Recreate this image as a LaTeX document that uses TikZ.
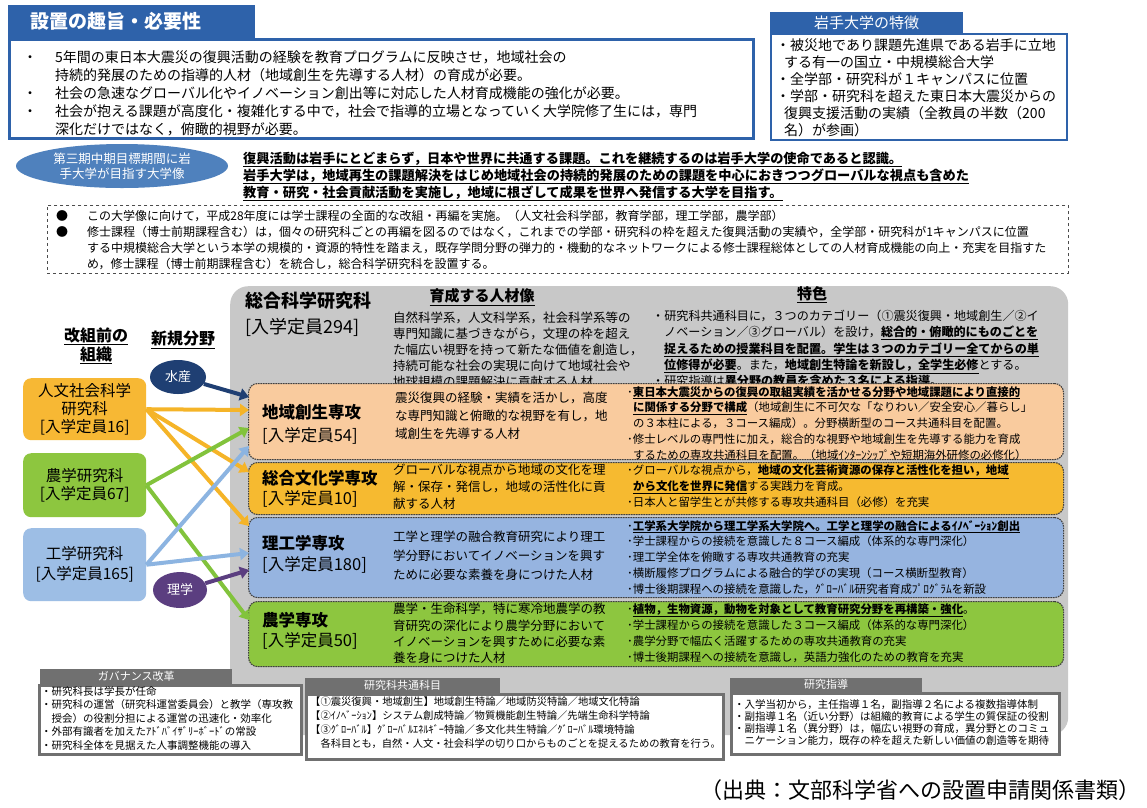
\documentclass[tikz,border=0pt]{standalone}
\usepackage{fontspec}
\setmainfont{Noto Sans CJK JP}
\usetikzlibrary{arrows.meta,shapes.geometric}
\definecolor{tblue}{RGB}{46,98,170}
\definecolor{eblue}{RGB}{79,129,189}
\definecolor{gbox}{RGB}{200,200,200}
\definecolor{rowa}{RGB}{249,203,158}
\definecolor{rowb}{RGB}{246,186,48}
\definecolor{rowc}{RGB}{150,180,224}
\definecolor{rowd}{RGB}{141,198,63}
\definecolor{lor}{RGB}{247,184,52}
\definecolor{lgr}{RGB}{141,198,63}
\definecolor{lbl}{RGB}{157,190,229}
\definecolor{navyc}{RGB}{31,63,115}
\definecolor{purp}{RGB}{91,62,128}
\definecolor{dgray}{RGB}{112,112,112}
\definecolor{aor}{RGB}{245,180,40}
\definecolor{agr}{RGB}{130,195,60}
\definecolor{abl}{RGB}{140,180,225}
\newcommand\fsz[2]{\fontsize{#1}{#2}\selectfont}
\newcommand\ubf[1]{\underline{\textbf{#1}}}
\newcommand\bul[1]{\makebox[#1][l]{・}}
\begin{document}
\begin{tikzpicture}[x=1pt,y=-1pt,
  tx/.style={anchor=north west,inner sep=0pt,align=left},
  lbl/.style={anchor=west,inner sep=0pt},
  arr/.style={line width=4pt,-{Triangle[length=9pt,width=12pt]}},
  rowbox/.style={draw=black!75,line width=1.1pt,dash pattern=on 1.6pt off 0.9pt,rounded corners=9pt,anchor=north west,inner sep=0pt,minimum width=815pt},
  lbox/.style={rounded corners=8pt,anchor=north west,inner sep=0pt,minimum width=123pt},
  wbox/.style={fill=white,anchor=north west,inner sep=0pt},
  tabbox/.style={anchor=south west,inner sep=0pt},
  ]
\useasboundingbox (0,0) rectangle (1147,807);
\fill[white] (0,0) rectangle (1147,807);

% ---- top left
\node[wbox,draw=tblue,line width=2.5pt,minimum width=744pt,minimum height=99pt] (box1) at (8,38) {};
\node[tabbox,fill=tblue,minimum width=247pt,minimum height=33pt] (tab1) at (8,38) {};
\node[lbl,text=white,font=\bfseries\fsz{19}{19}] (tab1t) at (30,21.5) {設置の趣旨・必要性};
\node[tx,font=\fsz{14}{18}] (box1t) at (23,50) {\bul{32pt}5年間の東日本大震災の復興活動の経験を教育プログラムに反映させ，地域社会の\\
\hspace*{32pt}持続的発展のための指導的人材（地域創生を先導する人材）の育成が必要。\\
\bul{32pt}社会の急速なグローバル化やイノベーション創出等に対応した人材育成機能の強化が必要。\\
\bul{32pt}社会が抱える課題が高度化・複雑化する中で，社会で指導的立場となっていく大学院修了生には，専門\\
\hspace*{32pt}深化だけではなく，俯瞰的視野が必要。};

% ---- top right
\node[wbox,draw=tblue,line width=2pt,minimum width=296pt,minimum height=106pt] (box2) at (770,33) {};
\node[tabbox,fill=tblue,minimum width=193pt,minimum height=21pt] (tab2) at (770,33) {};
\node[inner sep=0pt,text=white,font=\fsz{15}{15}] (tab2t) at (tab2.center) {岩手大学の特徴};
\node[tx,font=\fsz{14}{17}] (box2t) at (776,39) {・被災地であり課題先進県である岩手に立地\\
\hspace*{8pt}する有一の国立・中規模総合大学\\
・全学部・研究科が１キャンパスに位置\\
・学部・研究科を超えた東日本大震災からの\\
\hspace*{8pt}復興支援活動の実績（全教員の半数（200\\
\hspace*{8pt}名）が参画）};

% ---- mission
\node[ellipse,fill=eblue,minimum width=212pt,minimum height=44pt,inner sep=0pt,text=white,font=\fsz{12.5}{15},align=center] (ell) at (122,166) {第三期中期目標期間に岩\\手大学が目指す大学像};
\node[tx,font=\bfseries\fsz{13.2}{17}] (mission) at (243,151.5) {\underline{復興活動は岩手にとどまらず，日本や世界に共通する課題。これを継続するのは岩手大学の使命であると認識。}\\
\underline{岩手大学は，地域再生の課題解決をはじめ地域社会の持続的発展のための課題を中心におきつつグローバルな視点も含めた}\\
\underline{教育・研究・社会貢献活動を実施し，地域に根ざして成果を世界へ発信する大学を目指す。}};

% ---- plan (dashed)
\node[draw=black!70,dashed,line width=0.8pt,minimum width=1021pt,minimum height=68pt,anchor=north west,inner sep=0pt] (plan) at (47,205) {};
\node[tx,font=\fsz{12}{16}] (plant) at (56,210) {\makebox[31pt][l]{●}この大学像に向けて，平成28年度には学士課程の全面的な改組・再編を実施。（人文社会科学部，教育学部，理工学部，農学部）\\
\makebox[31pt][l]{●}修士課程（博士前期課程含む）は，個々の研究科ごとの再編を図るのではなく，これまでの学部・研究科の枠を超えた復興活動の実績や，全学部・研究科が1キャンパスに位置\\
\hspace*{31pt}する中規模総合大学という本学の規模的・資源的特性を踏まえ，既存学問分野の弾力的・機動的なネットワークによる修士課程総体としての人材育成機能の向上・充実を目指すた\\
\hspace*{31pt}め，修士課程（博士前期課程含む）を統合し，総合科学研究科を設置する。};

% ---- gray main box
\node[fill=gbox,rounded corners=18pt,minimum width=838pt,minimum height=449pt,anchor=north west,inner sep=0pt] (gray) at (230,286) {};
\node[lbl,font=\bfseries\fsz{18}{18}] (gname) at (245,301) {総合科学研究科};
\node[lbl,font=\fsz{18}{18}] (gcap) at (245,327) {[入学定員294]};
\node[inner sep=0pt,font=\bfseries\fsz{15}{15}] (hjin) at (482,297) {\underline{育成する人材像}};
\node[inner sep=0pt,font=\bfseries\fsz{15}{15}] (htoku) at (812,295) {\underline{特色}};
\node[tx,font=\fsz{12.5}{16}] (gjin) at (393,312) {自然科学系，人文科学系，社会科学系等の\\
専門知識に基づきながら，文理の枠を超え\\
た幅広い視野を持って新たな価値を創造し，\\
持続可能な社会の実現に向けて地域社会や\\
地球規模の課題解決に貢献する人材};
\node[tx,font=\fsz{12.1}{16.3}] (gtoku) at (652,310) {・研究科共通科目に，３つのカテゴリー（①震災復興・地域創生／②イ\\
\hspace*{12pt}ノベーション／③グローバル）を設け，\ubf{総合的・俯瞰的にものごとを}\\
\hspace*{12pt}\ubf{捉えるための授業科目を配置。学生は３つのカテゴリー全てからの単}\\
\hspace*{12pt}\ubf{位修得が必要}。また，\ubf{地域創生特論を新設し，全学生必修}とする。\\
・研究指導は\ubf{異分野の教員を含めた３名による指導}。};

% ---- rows
\node[rowbox,fill=rowa,minimum height=76pt] (r1) at (248,383) {};
\node[rowbox,fill=rowb,minimum height=52pt] (r2) at (248,462) {};
\node[rowbox,fill=rowc,minimum height=80pt] (r3) at (248,517) {};
\node[rowbox,fill=rowd,minimum height=65pt] (r4) at (248,601) {};

\node[lbl,font=\bfseries\fsz{16.5}{16.5}] (r1n) at (262,412) {地域創生専攻};
\node[lbl,font=\fsz{16.5}{16.5}] (r1c) at (262,436) {[入学定員54]};
\node[tx,font=\fsz{12.5}{18}] (r1j) at (395,392) {震災復興の経験・実績を活かし，高度\\
な専門知識と俯瞰的な視野を有し，地\\
域創生を先導する人材};
\node[tx,font=\fsz{11.4}{15.8}] (r1t) at (627,386) {･\ubf{東日本大震災からの復興の取組実績を活かせる分野や地域課題により直接的}\\
\hspace*{6pt}\ubf{に関係する分野で構成}（地域創生に不可欠な「なりわい／安全安心／暮らし」\\
\hspace*{6pt}の３本柱による，３コース編成）。分野横断型のコース共通科目を配置。\\
･修士レベルの専門性に加え，総合的な視野や地域創生を先導する能力を育成\\
\hspace*{6pt}するための専攻共通科目を配置。（地域ｲﾝﾀｰﾝｼｯﾌﾟや短期海外研修の必修化）};

\node[lbl,font=\bfseries\fsz{16.5}{16.5}] (r2n) at (262,478) {総合文化学専攻};
\node[lbl,font=\fsz{16.5}{16.5}] (r2c) at (262,499) {[入学定員10]};
\node[tx,font=\fsz{12.5}{17}] (r2j) at (393,464) {グローバルな視点から地域の文化を理\\
解・保存・発信し，地域の活性化に貢\\
献する人材};
\node[tx,font=\fsz{11.4}{16}] (r2t) at (627,465) {･グローバルな視点から，\ubf{地域の文化芸術資源の保存と活性化を担い，地域}\\
\hspace*{6pt}\ubf{から文化を世界に発信}する実践力を育成。\\
･日本人と留学生とが共修する専攻共通科目（必修）を充実};

\node[lbl,font=\bfseries\fsz{16.5}{16.5}] (r3n) at (262,543) {理工学専攻};
\node[lbl,font=\fsz{16.5}{16.5}] (r3c) at (262,565) {[入学定員180]};
\node[tx,font=\fsz{12.5}{19}] (r3j) at (393,531) {工学と理学の融合教育研究により理工\\
学分野においてイノベーションを興す\\
ために必要な素養を身につけた人材};
\node[tx,font=\fsz{11.4}{15.8}] (r3t) at (627,520) {･\ubf{工学系大学院から理工学系大学院へ。工学と理学の融合によるｲﾉﾍﾞｰｼｮﾝ創出}\\
･学士課程からの接続を意識した８コース編成（体系的な専門深化）\\
･理工学全体を俯瞰する専攻共通教育の充実\\
･横断履修プログラムによる融合的学びの実現（コース横断型教育）\\
･博士後期課程への接続を意識した，ｸﾞﾛｰﾊﾞﾙ研究者育成ﾌﾟﾛｸﾞﾗﾑを新設};

\node[lbl,font=\bfseries\fsz{16.5}{16.5}] (r4n) at (262,620) {農学専攻};
\node[lbl,font=\fsz{16.5}{16.5}] (r4c) at (262,641) {[入学定員50]};
\node[tx,font=\fsz{12.5}{16.3}] (r4j) at (393,603) {農学・生命科学，特に寒冷地農学の教\\
育研究の深化により農学分野において\\
イノベーションを興すために必要な素\\
養を身につけた人材};
\node[tx,font=\fsz{11.4}{16.3}] (r4t) at (627,603) {･\ubf{植物，生物資源，動物を対象として教育研究分野を再構築・強化}。\\
･学士課程からの接続を意識した３コース編成（体系的な専門深化）\\
･農学分野で幅広く活躍するための専攻共通教育の充実\\
･博士後期課程への接続を意識し，英語力強化のための教育を充実};

% ---- left side
\node[inner sep=0pt,font=\bfseries\fsz{16}{19},align=center] (before) at (96,346) {\underline{改組前の}\\\underline{組織}};
\node[inner sep=0pt,font=\bfseries\fsz{16}{16}] (newf) at (183,340) {\underline{新規分野}};
\node[ellipse,fill=navyc,minimum width=56pt,minimum height=34pt,inner sep=0pt,text=white,font=\fsz{13}{13}] (suisan) at (178,377) {水産};
\node[lbox,fill=lor,minimum height=62pt] (jinbun) at (23,378) {};
\node[inner sep=0pt,font=\fsz{15.5}{18},align=center] (jinbunt) at (jinbun.center) {人文社会科学\\研究科\\{}[入学定員16]};
\node[lbox,fill=lgr,minimum height=64pt] (nou) at (23,453) {};
\node[inner sep=0pt,font=\fsz{15.5}{18},align=center] (nout) at (nou.center) {農学研究科\\{}[入学定員67]};
\node[lbox,fill=lbl,minimum height=73pt] (kou) at (23,528) {};
\node[inner sep=0pt,font=\fsz{15.5}{20},align=center] (kout) at (kou.center) {工学研究科\\{}[入学定員165]};
\node[ellipse,fill=purp,minimum width=54pt,minimum height=36pt,inner sep=0pt,text=white,font=\fsz{13}{13}] (rigaku) at (180,590) {理学};

\coordinate (e1) at (249,397);
\coordinate (e2) at (249,410);
\coordinate (e3) at (249,428);
\coordinate (e4) at (249,446);
\coordinate (e5) at (249,472);
\coordinate (e6) at (249,526);
\coordinate (e7) at (249,553);
\coordinate (e8) at (249,570);
\coordinate (e9) at (249,620);
\draw[arr,navyc] (suisan.-15) -- (e1);
\draw[arr,aor] (jinbun.east) -- (e2);
\draw[arr,aor] (jinbun.east) -- (e5);
\draw[arr,aor] (jinbun.east) -- (e6);
\draw[arr,agr] (nou.east) -- (e3);
\draw[arr,agr] (nou.east) -- (e9);
\draw[arr,abl] (kou.east) -- (e4);
\draw[arr,abl] (kou.east) -- (e7);
\draw[arr,purp] (rigaku.15) -- (e8);

% ---- bottom boxes
\node[wbox,draw=dgray,line width=2.5pt,minimum width=262pt,minimum height=69pt] (gov) at (38,684) {};
\node[tabbox,fill=dgray,minimum width=192pt,minimum height=15pt] (govtab) at (40,684) {};
\node[inner sep=0pt,text=white,font=\fsz{11}{11}] (govtabt) at (govtab.center) {ガバナンス改革};
\node[tx,font=\fsz{10.5}{13.5}] (govt) at (41,686) {・研究科長は学長が任命\\
・研究科の運営（研究科運営委員会）と教学（専攻教\\
\hspace*{10.5pt}授会）の役割分担による運営の迅速化・効率化\\
・外部有識者を加えたｱﾄﾞﾊﾞｲｻﾞﾘｰﾎﾞｰﾄﾞの常設\\
・研究科全体を見据えた人事調整機能の導入};

\node[wbox,draw=dgray,line width=2.5pt,minimum width=417pt,minimum height=65pt] (kyo) at (305,693) {};
\node[tabbox,fill=dgray,minimum width=195pt,minimum height=15pt] (kyotab) at (305,693) {};
\node[inner sep=0pt,text=white,font=\fsz{11}{11}] (kyotabt) at (kyotab.center) {研究科共通科目};
\node[tx,font=\fsz{10.3}{13.7}] (kyot) at (310,697) {【①震災復興・地域創生】地域創生特論／地域防災特論／地域文化特論\\
【②ｲﾉﾍﾞｰｼｮﾝ】システム創成特論／物質機能創生特論／先端生命科学特論\\
【③ｸﾞﾛｰﾊﾞﾙ】ｸﾞﾛｰﾊﾞﾙｴﾈﾙｷﾞｰ特論／多文化共生特論／ｸﾞﾛｰﾊﾞﾙ環境特論\\
\hspace*{10.3pt}各科目とも，自然・人文・社会科学の切り口からものごとを捉えるための教育を行う。};

\node[wbox,draw=dgray,line width=2.5pt,minimum width=328pt,minimum height=61pt] (shido) at (730,692) {};
\node[tabbox,fill=dgray,minimum width=192pt,minimum height=14pt] (shidotab) at (730,692) {};
\node[inner sep=0pt,text=white,font=\fsz{11}{11}] (shidotabt) at (shidotab.center) {研究指導};
\node[tx,font=\fsz{10.5}{12.3}] (shidot) at (734,699) {・入学当初から，主任指導１名，副指導２名による複数指導体制\\
・副指導１名（近い分野）は組織的教育による学生の質保証の役割\\
・副指導１名（異分野）は，幅広い視野の育成，異分野とのコミュ\\
\hspace*{10.5pt}ニケーション能力，既存の枠を超えた新しい価値の創造等を期待};

\node[anchor=east,inner sep=0pt,font=\fsz{22}{22}] (src) at (1141,790) {（出典：文部科学省への設置申請関係書類）};
\end{tikzpicture}
\end{document}
